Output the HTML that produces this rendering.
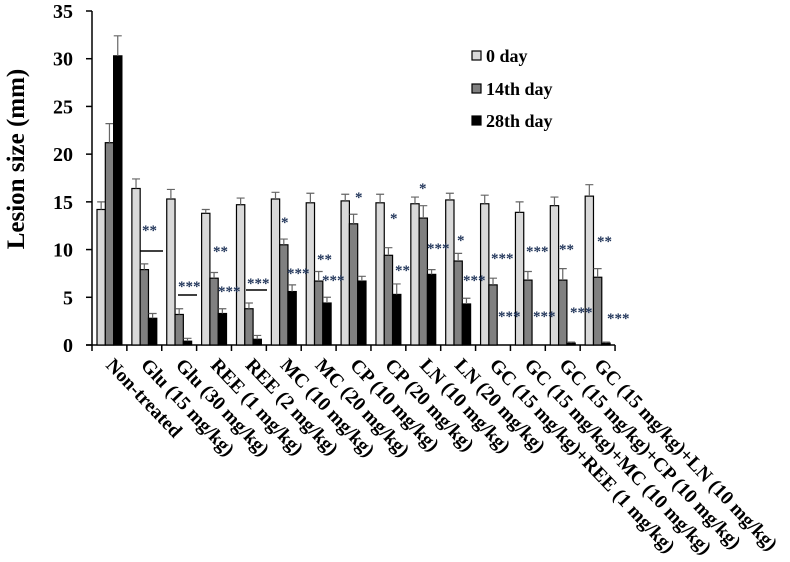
<!DOCTYPE html>
<html><head><meta charset="utf-8"><style>
html,body{margin:0;padding:0;background:#fff;}
svg{display:block;font-family:"Liberation Serif",serif;font-weight:bold;}
</style></head><body>
<svg id="chart" width="790" height="562" viewBox="0 0 790 562" xmlns="http://www.w3.org/2000/svg">
<g id="plot"></g>
</svg>
<script>
const categories = ["Non-treated","Glu (15 mg/kg)","Glu (30 mg/kg)","REE (1 mg/kg)","REE (2 mg/kg)","MC (10 mg/kg)","MC (20 mg/kg)","CP (10 mg/kg)","CP (20 mg/kg)","LN (10 mg/kg)","LN (20 mg/kg)","GC (15 mg/kg)+REE (1 mg/kg)","GC (15 mg/kg)+MC (10 mg/kg)","GC (15 mg/kg)+CP (10 mg/kg)","GC (15 mg/kg)+LN (10 mg/kg)"];
const day0 = [14.2,16.4,15.3,13.8,14.7,15.3,14.9,15.1,14.9,14.8,15.2,14.8,13.9,14.6,15.6];
const day14 = [21.2,7.9,3.2,7.0,3.8,10.5,6.7,12.7,9.4,13.3,8.8,6.3,6.8,6.8,7.1];
const day28 = [30.3,2.8,0.4,3.3,0.6,5.6,4.4,6.7,5.3,7.4,4.3,0,0,0.2,0.2];
const err0 = [0.8,1.0,1.0,0.4,0.7,0.7,1.0,0.7,0.9,0.7,0.7,0.9,1.1,0.9,1.2];
const err14 = [2.0,0.6,0.6,0.6,0.6,0.6,1.0,1.0,0.8,1.3,0.8,0.7,0.9,1.2,0.9];
const err28 = [2.1,0.5,0.3,0.5,0.4,0.7,0.6,0.5,1.1,0.5,0.6,0,0,0.1,0.1];
const yTicks = [0,5,10,15,20,25,30,35];
const seriesNames = ["0 day","14th day","28th day"];
const sigLabels = [["**",1,142,227],["***",2,178,283],["**",3,213,248],["***",3,218,288],["***",4,247,280],["*",5,281,219],["***",5,287,270],["**",6,317,256],["***",6,322,277],["*",7,355,194],["*",8,390,215],["**",8,395,267],["*",9,419,185],["***",9,427,245],["*",10,457,237],["***",10,463,277],["***",11,491,255],["***",11,498,313],["***",12,526,248],["***",12,533,313],["**",13,559,246],["***",13,570,309],["**",14,597,238],["***",14,607,315]];
const NS="http://www.w3.org/2000/svg";
const plot=document.getElementById('plot');
const X0=92, GW=34.87, Y0=345, PPU=334/35, BW=8.3;
const y=v=>Y0-v*PPU;
const gx=i=>X0+i*GW;
function mk(t,a){const e=document.createElementNS(NS,t);for(const k in a)e.setAttribute(k,a[k]);plot.appendChild(e);return e;}
let ax=mk('line',{x1:X0,y1:y(35),x2:X0,y2:Y0,stroke:'#000','stroke-width':1.5});


yTicks.forEach(t=>{
  let l=mk('line',{x1:X0-6,x2:X0,y1:y(t),y2:y(t),stroke:'#000','stroke-width':1.5});
  
  
  let tx=mk('text',{x:73,y:y(t)+7,'text-anchor':'end','font-size':20});
  tx.textContent=t;
  
  
});
let yt=mk('text',{x:0,y:0,'text-anchor':'middle','font-size':25,transform:'translate(24,159) rotate(-90)'});
yt.textContent='Lesion size (mm)';


let xa=mk('line',{x1:X0-6,y1:Y0,x2:gx(categories.length),y2:Y0,stroke:'#000','stroke-width':1.5});


const fills=['#d9d9d9','#808080','#000'];
const series=[day0,day14,day28], errs=[err0,err14,err28];
categories.forEach((c,i)=>{
  let tk=mk('line',{x1:gx(i),x2:gx(i),y1:Y0,y2:Y0+6,stroke:'#000','stroke-width':1.5});
  
  
  if(i==categories.length-1){let t2=mk('line',{x1:gx(i+1),x2:gx(i+1),y1:Y0,y2:Y0+6,stroke:'#000','stroke-width':1.5});}
  series.forEach((s,k)=>{
    const bx=gx(i)+5+k*BW, v=s[i];
    if(v>0){
      let r=mk('rect',{x:bx,y:y(v),width:BW,height:Y0-y(v),fill:fills[k],stroke:'#000','stroke-width':1.2});
      
      
    }
    const e=errs[k][i];
    if(e>0){
      const cx=bx+BW/2;
      let el=mk('path',{d:`M${cx},${y(v)} V${y(v+e)} M${cx-4},${y(v+e)} H${cx+4}`,stroke:'#666','stroke-width':1.2,fill:'none'});
      
      
    }
  });
  let lt=mk('text',{x:0,y:0,'font-size':19.5,transform:`translate(${gx(i)+13},${Y0+21}) rotate(46.5)`});
  lt.textContent=c;
  
  
});
sigLabels.forEach(s=>{
  let t=mk('text',{x:s[2],y:s[3]+8,'font-size':15,fill:'#1f3358'});
  t.textContent=s[0];
  
  
});
[[140,163,251],[178,197,295],[246,267,290]].forEach(l=>{
  let ln=mk('line',{x1:l[0],x2:l[1],y1:l[2],y2:l[2],stroke:'#000','stroke-width':1.5});
  
  
});
seriesNames.forEach((n,k)=>{
  const ly=[56,89,121][k];
  let r=mk('rect',{x:472,y:ly-5,width:9,height:9,fill:fills[k],stroke:'#000','stroke-width':1.2});
  
  
  let t=mk('text',{x:486,y:ly+6,'font-size':18});
  t.textContent=n;
  
  
});
</script>
</body></html>
